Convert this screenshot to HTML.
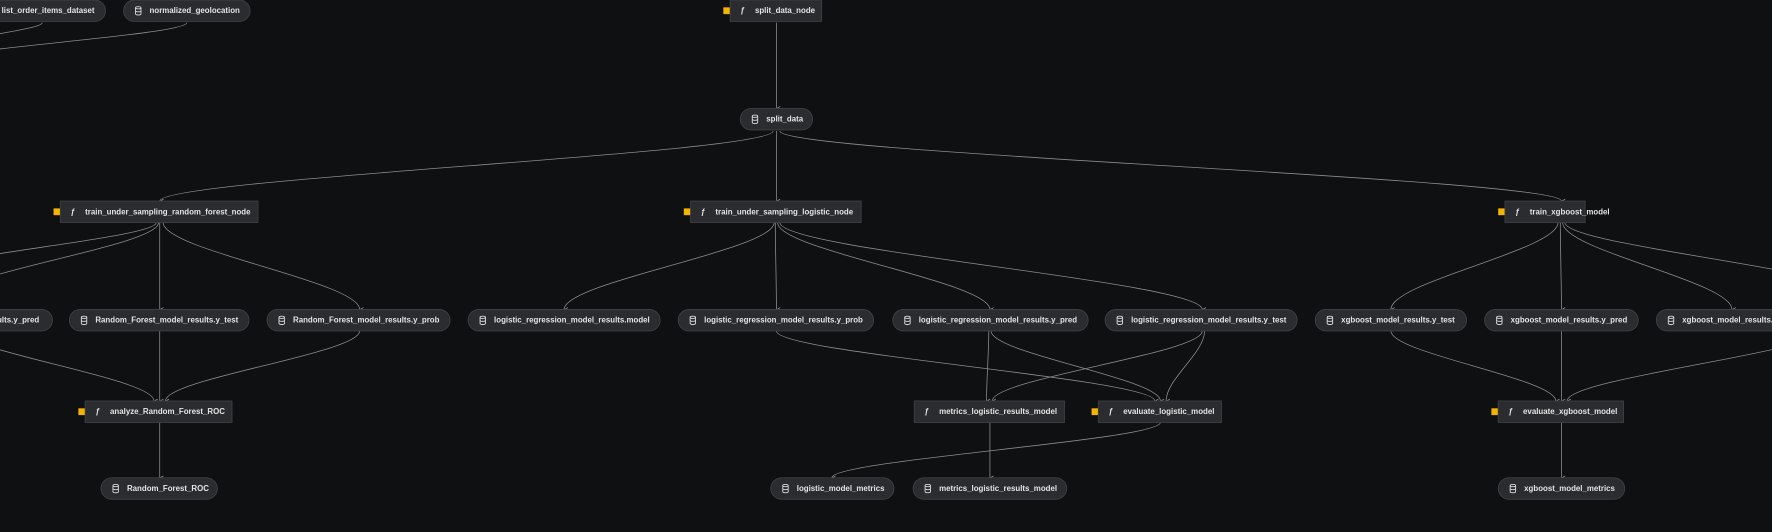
<!DOCTYPE html>
<html><head><meta charset="utf-8"><style>
html,body{margin:0;padding:0;background:#0f1012;width:1772px;height:532px;overflow:hidden}
svg{display:block}
text{font-family:"Liberation Sans",sans-serif;font-size:7px;font-weight:bold;fill:#e4e4e4;dominant-baseline:central}
.e{fill:none;stroke:#8c8c8c;stroke-width:0.7}
.n{fill:#2b2c2f;stroke:#3e3f43;stroke-width:0.8}
.y{fill:#f5b400}
</style></head><body>
<svg id="s" width="1772" height="532" viewBox="0 0 1568 471" xmlns="http://www.w3.org/2000/svg">
<defs><marker id="a" viewBox="0 0 6 6" refX="3" refY="6" markerWidth="4" markerHeight="4" orient="auto-start-reverse" markerUnits="userSpaceOnUse"><path d="M0.5 1 L3 5.5 L5.5 1" fill="none" stroke="#9a9a9a" stroke-width="1"/></marker></defs>
<g id="edges"></g><g id="nodes"></g>
</svg>
<script>
var NS="http://www.w3.org/2000/svg";
var E=document.getElementById('edges'),N=document.getElementById('nodes');
function el(t,a,p){var e=document.createElementNS(NS,t);for(var k in a)e.setAttribute(k,a[k]);(p||N).appendChild(e);return e;}
function edge(x1,y1,x2,y2,arrow){var k=(y2-y1)*0.32;
 var d='M'+x1+' '+y1+' C'+x1+' '+(y1+k)+' '+x2+' '+(y2-k)+' '+x2+' '+y2;
 var p=el('path',{d:d,'class':'e'},E);if(arrow!==false)p.setAttribute('marker-end','url(#a)');}
function pill(x1,x2,y,label){var h=19;el('rect',{x:x1,y:y,width:x2-x1,height:h,rx:9.5,'class':'n'});
 var cx=x1+13,cy=y+h/2;el('ellipse',{cx:cx,cy:cy-2.6,rx:2.4,ry:1,fill:'none',stroke:'#ddd','stroke-width':0.8});
 el('path',{d:'M'+(cx-2.4)+' '+(cy-2.6)+' v5.4 a2.4 1 0 0 0 4.8 0 v-5.4 M'+(cx-2.4)+' '+cy+' a2.4 1 0 0 0 4.8 0',fill:'none',stroke:'#ddd','stroke-width':0.8});
 var t=el('text',{x:x1+23,y:cy});t.textContent=label;}
function fn(x1,x2,y,label,yel){var h=19;if(yel)el('rect',{x:x1-6,y:y+6.5,width:6,height:6,'class':'y'});
 el('rect',{x:x1,y:y,width:x2-x1,height:h,'class':'n'});
 var t=el('text',{x:x1+9,y:y+h/2,'font-style':'italic','font-family':'Liberation Serif,serif','font-size':'10','font-weight':'normal'});t.textContent='ƒ';
 t=el('text',{x:x1+22,y:y+h/2});t.textContent=label;}
edge(37,20,-40,40,false);edge(165,20,-60,55,false);
edge(687,20,687,96);
edge(684,116,141,178);edge(687,116,687,178);edge(690,116,1382,178);
edge(138,197,-60,240,false);edge(140,197,-40,262,false);edge(141,197,141,274);edge(144,197,318,274);
edge(685,197,499,274);edge(686,197,687,274);edge(688,197,876,274);edge(690,197,1064,274);
edge(1379,197,1231,274);edge(1381,197,1382,274);edge(1383,197,1533,274);edge(1385,197,1640,260,false);
edge(-40,290,136,355);edge(141,293,141,355);edge(318,293,146,355);
edge(687,293,1022,355);edge(875,293,873,355);edge(877,293,1027,355);edge(1064,293,878,355);edge(1066,293,1032,355);
edge(1027,374,736,423);edge(876,374,876,423);
edge(1231,293,1377,355);edge(1382,293,1382,355);edge(1620,290,1387,355);
edge(1382,374,1382,423);edge(141,374,141,423);
pill(-22,93,0,'list_order_items_dataset');pill(109,221,0,'normalized_geolocation');
fn(646,727,0,'split_data_node',1);
pill(655,719,96,'split_data');
fn(53,228,178,'train_under_sampling_random_forest_node',1);
fn(611,762,178,'train_under_sampling_logistic_node',1);
fn(1332,1403,178,'train_xgboost_model',1);
pill(-118,46,274,'Random_Forest_model_results.y_pred');
pill(61,220,274,'Random_Forest_model_results.y_test');
pill(236,398,274,'Random_Forest_model_results.y_prob');
pill(414,584,274,'logistic_regression_model_results.model');
pill(600,773,274,'logistic_regression_model_results.y_prob');
pill(790,963,274,'logistic_regression_model_results.y_pred');
pill(978,1148,274,'logistic_regression_model_results.y_test');
pill(1164,1298,274,'xgboost_model_results.y_test');
pill(1314,1450,274,'xgboost_model_results.y_pred');
pill(1466,1610,274,'xgboost_model_results.y_prob');
fn(75,205,355,'analyze_Random_Forest_ROC',1);
fn(809,942,355,'metrics_logistic_results_model',0);
fn(972,1081,355,'evaluate_logistic_model',1);
fn(1326,1437,355,'evaluate_xgboost_model',1);
pill(89,192,423,'Random_Forest_ROC');
pill(682,791,423,'logistic_model_metrics');
pill(808,944,423,'metrics_logistic_results_model');
pill(1326,1438,423,'xgboost_model_metrics');
</script>
</body></html>
